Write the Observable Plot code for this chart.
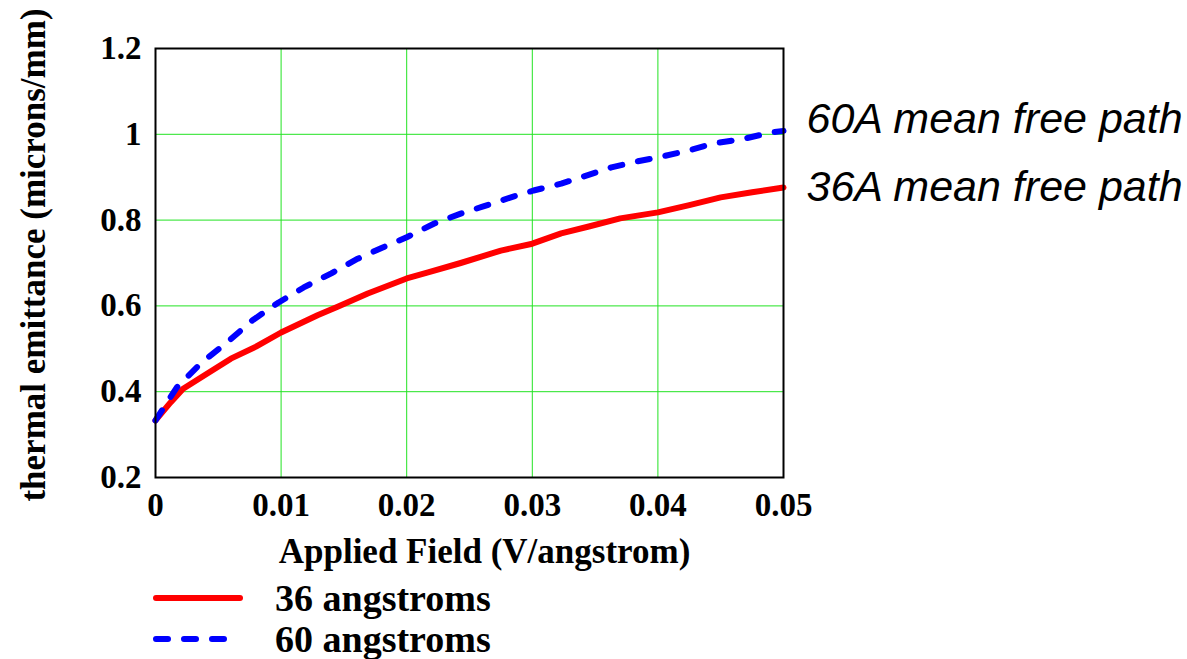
<!DOCTYPE html>
<html>
<head>
<meta charset="utf-8">
<script src="https://cdn.jsdelivr.net/npm/d3@7"></script>
<script src="https://cdn.jsdelivr.net/npm/@observablehq/plot@0.6"></script>
<style>
  html, body { margin: 0; padding: 0; background: #fff; }
  #chart { width: 1187px; }
  .legend { position: relative; width: 1187px; font-family: "Liberation Serif", "Times New Roman", serif; font-weight: bold; font-size: 38px; color: #000; margin-top: 5px; }
  .row { display: flex; align-items: center; height: 41px; }
  .row svg { margin-left: 150px; margin-right: 29px; }
</style>
</head>
<body>
<div id="chart"></div>
<div class="legend" id="legend"></div>
<script>
// Series: 36 angstrom mean free path
const x36 = [0, 0.0012, 0.0022, 0.004, 0.006, 0.008, 0.01, 0.0129, 0.0145, 0.0169, 0.02, 0.0217, 0.0243, 0.0275, 0.03, 0.0323, 0.0345, 0.037, 0.04, 0.0425, 0.045, 0.0475, 0.05];
const y36 = [0.333, 0.375, 0.407, 0.44, 0.477, 0.505, 0.538, 0.578, 0.598, 0.629, 0.664, 0.678, 0.70, 0.729, 0.745, 0.769, 0.785, 0.804, 0.818, 0.835, 0.853, 0.865, 0.876];
// Series: 60 angstrom mean free path
const x60 = [0, 0.0008, 0.0017, 0.0036, 0.0057, 0.0077, 0.0098, 0.0118, 0.014, 0.0161, 0.018, 0.02, 0.0222, 0.0243, 0.0261, 0.0283, 0.0301, 0.0323, 0.0339, 0.0363, 0.0384, 0.04, 0.0424, 0.0445, 0.0466, 0.049, 0.05];
const y60 = [0.333, 0.37, 0.41, 0.466, 0.515, 0.566, 0.608, 0.643, 0.676, 0.71, 0.735, 0.76, 0.792, 0.815, 0.832, 0.853, 0.869, 0.885, 0.90, 0.923, 0.937, 0.946, 0.962, 0.979, 0.988, 1.004, 1.008];

const xTicks = [0, 0.01, 0.02, 0.03, 0.04, 0.05];
const yTicks = [0.2, 0.4, 0.6, 0.8, 1.0, 1.2];
const xLabel = "Applied Field (V/angstrom)";
const yLabel = "thermal emittance (microns/mm)";
const seriesNames = ["36 angstroms", "60 angstroms"];
const annotations = ["36A mean free path", "60A mean free path"];

const d36 = x36.map((x, i) => ({x, y: y36[i]}));
const d60 = x60.map((x, i) => ({x, y: y60[i]}));
const fmt = d => String(+d.toFixed(2));
const serif = "Liberation Serif, Times New Roman, serif";
const sans = "Liberation Sans, Arial, sans-serif";

const plot = Plot.plot({
  width: 1187,
  height: 572,
  marginLeft: 155,
  marginRight: 404,
  marginTop: 48,
  marginBottom: 95,
  style: { fontFamily: serif, fontWeight: "bold", fontSize: "33px", color: "#000", background: "#fff", overflow: "visible" },
  x: { domain: [0, 0.05] },
  y: { domain: [0.2, 1.2] },
  marks: [
    Plot.gridX(xTicks, { stroke: "#22e322", strokeOpacity: 1, strokeWidth: 1 }),
    Plot.gridY(yTicks, { stroke: "#22e322", strokeOpacity: 1, strokeWidth: 1 }),
    Plot.axisX({ ticks: xTicks, tickFormat: fmt, tickSize: 0, tickPadding: 15, label: null, fontSize: 33, fontWeight: "bold" }),
    Plot.axisY({ ticks: yTicks, tickFormat: fmt, tickSize: 0, tickPadding: 14, label: null, fontSize: 33, fontWeight: "bold" }),
    Plot.text([xLabel], { frameAnchor: "bottom", dx: 15, dy: 85, fontSize: 35, fontWeight: "bold", fontFamily: serif, fill: "#000" }),
    Plot.text([yLabel], { frameAnchor: "left", textAnchor: "middle", rotate: -90, dx: -122, dy: -8, fontSize: 35, fontWeight: "bold", fontFamily: serif, fill: "#000" }),
    Plot.line(d36, { x: "x", y: "y", stroke: "#ff0000", strokeWidth: 6, strokeLinejoin: "round", strokeLinecap: "round" }),
    Plot.line(d60, { x: "x", y: "y", stroke: "#0000ff", strokeWidth: 6, strokeDasharray: "12,16", strokeLinejoin: "round", strokeLinecap: "round" }),
    Plot.frame({ stroke: "#000", strokeWidth: 2 }),
    Plot.text([d36[d36.length - 1]], { x: "x", y: "y", text: [annotations[0]], textAnchor: "start", dx: 23, dy: 0, fontFamily: sans, fontStyle: "italic", fontWeight: "normal", fontSize: 43, fill: "#000" }),
    Plot.text([d60[d60.length - 1]], { x: "x", y: "y", text: [annotations[1]], textAnchor: "start", dx: 23, dy: -12, fontFamily: sans, fontStyle: "italic", fontWeight: "normal", fontSize: 43, fill: "#000" })
  ]
});
document.getElementById("chart").appendChild(plot);

const legend = document.getElementById("legend");
const styles = [
  { color: "#ff0000", dash: null },
  { color: "#0000ff", dash: "12,16" }
];
seriesNames.forEach((name, i) => {
  const row = document.createElement("div");
  row.className = "row";
  const s = styles[i];
  row.innerHTML = `<svg width="96" height="12"><line x1="6" y1="6" x2="90" y2="6" stroke="${s.color}" stroke-width="6" stroke-linecap="round" ${s.dash ? `stroke-dasharray="${s.dash}"` : ""}/></svg><span>${name}</span>`;
  legend.appendChild(row);
});
</script>
</body>
</html>
